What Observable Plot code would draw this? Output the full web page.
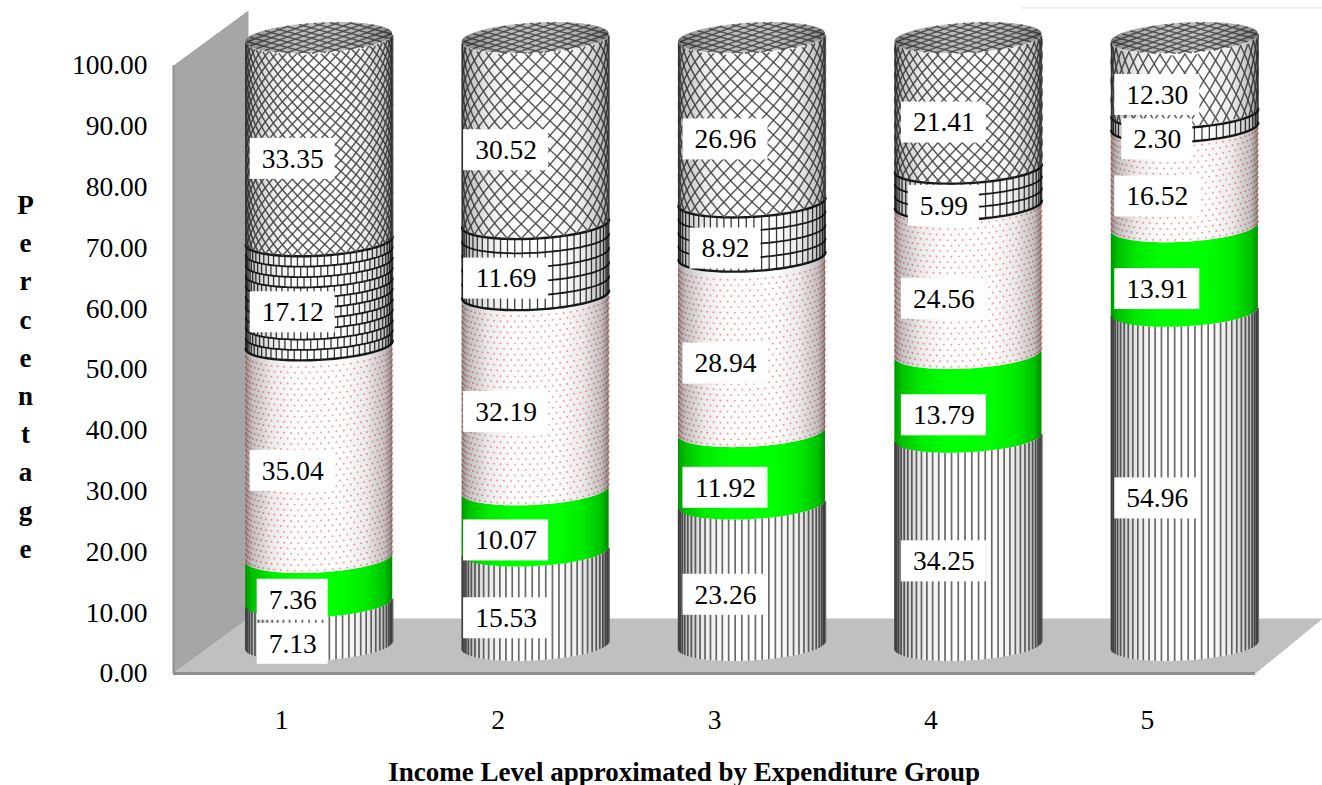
<!DOCTYPE html>
<html>
<head>
<meta charset="utf-8">
<script src="https://cdn.jsdelivr.net/npm/d3@7"></script>
<script src="https://cdn.jsdelivr.net/npm/@observablehq/plot@0.6"></script>
<style>
  html, body { margin: 0; padding: 0; background: #fff; }
  svg { display: block; }
</style>
</head>
<body>
<script>
// Income share by expenditure group, one stacked cylinder per group.
const groups = [1, 2, 3, 4, 5];
const striped = [7.13, 15.53, 23.26, 34.25, 54.96];
const green = [7.36, 10.07, 11.92, 13.79, 13.91];
const dotted = [35.04, 32.19, 28.94, 24.56, 16.52];
const brick = [17.12, 11.69, 8.92, 5.99, 2.30];
const hatched = [33.35, 30.52, 26.96, 21.41, 12.30];
const yTicks = [0, 10, 20, 30, 40, 50, 60, 70, 80, 90, 100];
const xTitle = "Income Level approximated by Expenditure Group";
const yTitle = "Percentage";

// Scale factors and the 3D box the cylinders stand in.
const pxX = 216.4, pxV = 6.08;
const depthX = 75 / pxX, depthV = 55 / pxV;
const radius = 73.5 / pxX, ry = 15, tilt = 4;
const serif = "'Liberation Serif', 'Times New Roman', serif";

// Texture sizes per column, in pixels.
const hatchSize = [11, 14.5, 14.5, 12.5, 19];
const hatchStretch = [1, 1, 1, 1, 1.5];
const brickRow = [10.2, 14.5, 13.6, 14.5, 14];
const labelShift = [11, 8, 11, 13, 10];

const theta = d3.range(0, 61).map(i => -Math.PI / 2 + i * Math.PI / 60);
const ofTheta = t => Math.sin(t);
const cx = g => g + depthX / 2;
const xAt = (g, u) => cx(g) + radius * u;
const front = (v, u) => v + depthV / 2 - (ry * Math.sqrt(Math.max(0, 1 - u * u)) - tilt * u) / pxV;
const back = (v, u) => v + depthV / 2 + (ry * Math.sqrt(Math.max(0, 1 - u * u)) + tilt * u) / pxV;

const bands = [], stripes = [], dots = [], hatchLines = [], brickLines = [], joints = [], labels = [];
const caps = [], capLines = [];
let seg = 0, lineId = 0;

groups.forEach((g, c) => {
  let lo = 0;
  const parts = [
    ["stripe", striped[c]], ["green", green[c]], ["dot", dotted[c]],
    ["brick", brick[c]], ["hatch", hatched[c]]
  ];
  for (const [kind, value] of parts) {
    const hi = lo + value;
    seg++;
    for (const t of theta) {
      const u = ofTheta(t);
      bands.push({seg, kind, x: xAt(g, u), y1: front(lo, u), y2: front(hi, u)});
    }
    const hPx = value * pxV;
    if (kind === "stripe") {
      const n = 34;
      for (let i = 0; i < n; i++) {
        const u = Math.sin(-Math.PI / 2 + (i + 0.5) * Math.PI / n);
        stripes.push({x: xAt(g, u), y1: front(lo, u), y2: front(hi, u)});
      }
    }
    if (kind === "dot") {
      const rows = Math.floor(hPx / 5.5);
      for (let r = 0; r < rows; r++) {
        const n = 30;
        for (let i = 0; i < n; i++) {
          const u = Math.sin(-Math.PI / 2 + (i + (r % 2 ? 0.25 : 0.75)) * Math.PI / n);
          dots.push({x: xAt(g, u), y: front(lo + (r + 0.5) * 5.5 / pxV, u)});
        }
      }
    }
    if (kind === "brick") {
      const rows = Math.max(1, Math.round(hPx / brickRow[c]));
      for (let r = 0; r <= rows; r++) {
        lineId++;
        const v = lo + value * r / rows;
        for (const t of theta) {
          const u = ofTheta(t);
          brickLines.push({id: lineId, x: xAt(g, u), y: front(v, u), heavy: r === rows || r === 0});
        }
        if (r < rows) {
          const count = c === 0 ? 34 : 30;
          for (let j = 0; j < count; j++) {
            const phase = c === 0 && r % 2 ? 0.5 : 0;
            const u = Math.sin(-Math.PI / 2 + (j + 0.25 + phase) * Math.PI / count);
            joints.push({x: xAt(g, u), y1: front(v, u), y2: front(lo + value * (r + 1) / rows, u)});
          }
        }
      }
    }
    if (kind === "hatch") {
      // Diagonal threads wrapped round the cylinder, kept inside the band.
      const step = hatchSize[c], k = hatchStretch[c];
      const span = radius * pxX * Math.PI / 2;
      for (const dir of [-1, 1]) {
        for (let o = -span * k - step; o < hPx + span * k + step; o += step) {
          lineId++;
          for (let i = 0; i <= 120; i++) {
            const t = -Math.PI / 2 + i * Math.PI / 120;
            const u = Math.sin(t);
            const h = o + dir * k * t * radius * pxX;
            if (h >= 0 && h <= hPx) hatchLines.push({id: lineId, x: xAt(g, u), y: front(lo + h / pxV, u)});
          }
        }
      }
      // Flat top of the cylinder with the same threads seen at a shallow angle.
      for (const t of theta) {
        const u = ofTheta(t);
        caps.push({g, x: xAt(g, u), y1: front(hi, u), y2: back(hi, u)});
      }
      const capStep = 5.2;
      for (const dir of [-1, 1]) {
        for (let o = -70; o < 70; o += capStep) {
          lineId++;
          for (let i = 0; i <= 90; i++) {
            const u = -1 + i * 2 / 90;
            const s = o + dir * u * 24;
            const lim = ry * Math.sqrt(1 - u * u);
            const rel = s + tilt * u;
            if (Math.abs(s) <= lim) {
              hatchLines.push({id: lineId, x: xAt(g, u), y: hi + depthV / 2 + (s + tilt * u) / pxV, cap: true});
            }
          }
        }
      }
    }
    labels.push({
      x: g + labelShift[c] / pxX,
      y: lo + value / 2 + 1.32,
      w: value.toFixed(2).length > 4 ? 85 : 71,
      text: value.toFixed(2)
    });
    lo = hi;
  }
});

const left = 0.5, right = 5.5;

const wall = [
  {x: left, y: 0}, {x: left, y: 100},
  {x: left + depthX, y: 100 + depthV}, {x: left + depthX, y: depthV}
];
const floor = [
  {x: left, y: 0}, {x: left + depthX, y: depthV},
  {x: right + depthX * 0.9, y: depthV}, {x: right, y: 0}
];

const chart = Plot.plot({
  width: 1322,
  height: 785,
  marginTop: 65,
  marginBottom: 112,
  marginLeft: 173,
  marginRight: 67,
  style: {fontFamily: serif, background: "#fff", color: "#000"},
  x: {domain: [left, right], axis: null},
  y: {domain: [0, 100], axis: null},
  marks: [
    Plot.ruleY([109.5], {x1: 4.42, x2: 5.81, stroke: "#eeeeee", strokeWidth: 2}),
    Plot.line(wall, {x: "x", y: "y", fill: "#a6a6a6", stroke: "none"}),
    Plot.line(floor, {x: "x", y: "y", fill: "#c0c0c0", stroke: "none"}),
    Plot.ruleX([left], {y1: 0, y2: 100, stroke: "#8f8f8f", strokeWidth: 2}),
    Plot.ruleY([0], {x1: left, x2: right, stroke: "#8f8f8f", strokeWidth: 3}),

    // Cylinder bands
    Plot.areaY(bands, {
      x: "x", y1: "y1", y2: "y2", z: "seg",
      fill: d => d.kind === "green" ? "#00ff00" : "#ffffff"
    }),
    Plot.ruleX(stripes, {x: "x", y1: "y1", y2: "y2", stroke: "#6a6a6a", strokeWidth: 1.7}),
    Plot.dot(dots, {x: "x", y: "y", r: 1, fill: "#ff5c5c", fillOpacity: 0.62}),
    Plot.ruleX(joints, {x: "x", y1: "y1", y2: "y2", stroke: "#3a3a3a", strokeWidth: 1.3}),
    Plot.line(brickLines, {x: "x", y: "y", z: "id", stroke: "#1a1a1a", strokeWidth: d => d.heavy ? 2.4 : 1.8, curve: "linear"}),
    Plot.areaY(caps, {x: "x", y1: "y1", y2: "y2", z: "g", fill: "#bdbdbd"}),
    Plot.line(hatchLines, {x: "x", y: "y", z: "id", stroke: "#4d4d4d", strokeWidth: 1.5, strokeOpacity: 0.9}),
    Plot.areaY(bands, {x: "x", y1: "y1", y2: "y2", z: "seg", fill: "url(#cylinder-shade)"}),
    Plot.areaY(caps, {x: "x", y1: "y1", y2: "y2", z: "g", fill: "url(#cylinder-shade)"}),

    // Value labels on white tabs
    Plot.rect(labels, {
      x1: d => d.x - d.w / 2 / pxX,
      x2: d => d.x + d.w / 2 / pxX,
      y1: d => d.y - 20.5 / pxV,
      y2: d => d.y + 20.5 / pxV,
      fill: "#ffffff"
    }),
    Plot.text(labels, {x: "x", y: "y", text: "text", fontSize: 27.5, fill: "#000", lineAnchor: "middle"}),

    // Axes
    Plot.axisY({
      ticks: yTicks, tickSize: 0, tickPadding: 26, fontSize: 27.5, fill: "#000",
      tickFormat: d => d.toFixed(2), label: null
    }),
    Plot.axisX({
      ticks: groups, tickSize: 0, tickPadding: 36, fontSize: 27.5, fill: "#000",
      tickFormat: d => String(d), label: null
    }),
    Plot.text([xTitle], {x: 2.86, y: -16.3, fontSize: 27, fontWeight: "bold", fill: "#000", lineAnchor: "middle"}),
    Plot.text([yTitle.split("").join("\n")], {
      x: -0.184, y: 49.3, fontSize: 27, fontWeight: "bold", fill: "#000",
      lineAnchor: "middle", lineHeight: 38.2 / 27
    })
  ]
});

// Shading that makes every band read as a round surface.
const defs = d3.select(chart).insert("defs", ":first-child");
const grad = defs.append("linearGradient").attr("id", "cylinder-shade")
  .attr("x1", 0).attr("x2", 1).attr("y1", 0).attr("y2", 0);
[[0, 0.42], [0.05, 0.24], [0.18, 0.08], [0.36, 0], [0.64, 0], [0.82, 0.08], [0.95, 0.24], [1, 0.45]]
  .forEach(([o, a]) => grad.append("stop").attr("offset", o).attr("stop-color", "#000").attr("stop-opacity", a));

document.body.append(chart);
</script>
</body>
</html>
